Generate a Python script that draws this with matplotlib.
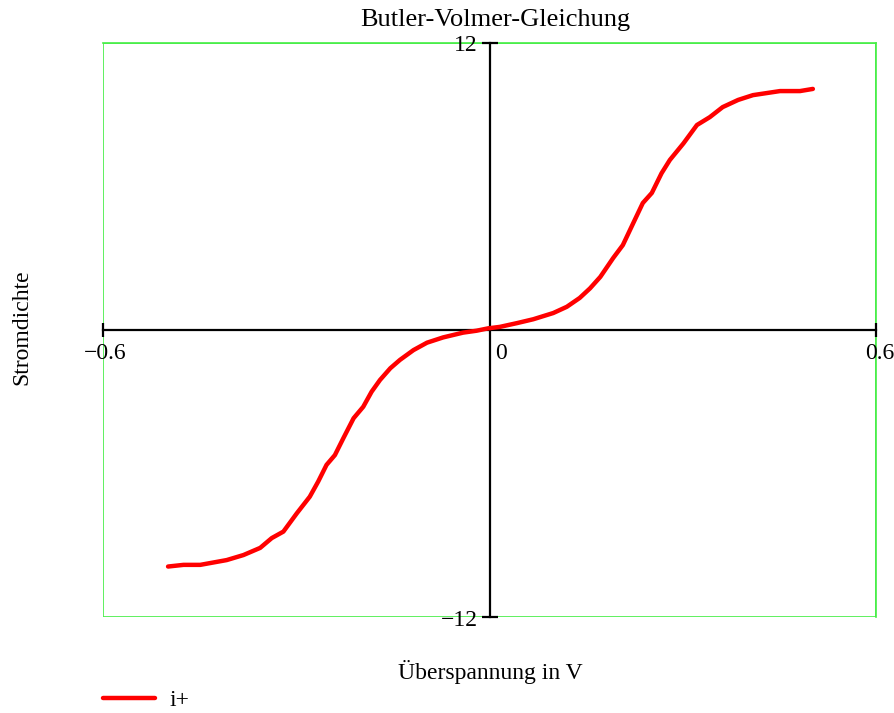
import matplotlib
matplotlib.use("Agg")
import matplotlib.pyplot as plt
from matplotlib.patches import Rectangle

# Data
eta = [-0.499, -0.475, -0.449, -0.408, -0.382, -0.356, -0.338, -0.320, -0.299,
       -0.279, -0.266, -0.253, -0.240, -0.227, -0.211, -0.196, -0.183, -0.170,
       -0.154, -0.139, -0.118, -0.097, -0.072, -0.041, -0.020, -0.002,
       0.016, 0.043, 0.068, 0.099, 0.120, 0.140, 0.156, 0.172, 0.192, 0.207,
       0.223, 0.238, 0.252, 0.267, 0.280, 0.301, 0.322, 0.342, 0.362, 0.386,
       0.409, 0.451, 0.482, 0.502]
i_plus = [-9.89, -9.82, -9.82, -9.62, -9.41, -9.11, -8.70, -8.43, -7.66,
          -6.97, -6.34, -5.64, -5.23, -4.53, -3.69, -3.21, -2.58, -2.09,
          -1.60, -1.25, -0.84, -0.53, -0.31, -0.11, -0.03, 0.07,
          0.13, 0.29, 0.45, 0.71, 0.97, 1.34, 1.74, 2.22, 3.01, 3.55,
          4.46, 5.31, 5.73, 6.55, 7.11, 7.80, 8.57, 8.90, 9.32, 9.62,
          9.82, 9.99, 9.99, 10.08]

title = "Butler-Volmer-Gleichung"
xlabel = "Überspannung in V"
ylabel = "Stromdichte"
legend_label = "i+"
x_limits = (-0.6, 0.6)
y_limits = (-12, 12)

plt.rcParams['font.family'] = ['Liberation Serif', 'DejaVu Serif']

fig = plt.figure(figsize=(8.95, 7.13), dpi=100)
W, H = 895, 713
ax = fig.add_axes([103 / W, 1 - 617 / H, (876 - 103) / W, (617 - 43) / H])
ax.set_xlim(*x_limits)
ax.set_ylim(*y_limits)

green = '#44ee44'
for s in ['top', 'right']:
    ax.spines[s].set_color(green)
    ax.spines[s].set_linewidth(1.2)
    ax.spines[s].set_zorder(0.6)
ax.add_patch(Rectangle((0, 0), 1, 1, transform=ax.transAxes, fill=False,
                       edgecolor=green, linewidth=1.2, zorder=0.5))
for s in ['left', 'bottom']:
    ax.spines[s].set_position('zero')
    ax.spines[s].set_color('black')
    ax.spines[s].set_linewidth(1.6)
    ax.spines[s].set_zorder(1)

ax.set_xticks([x_limits[0], x_limits[1]])
ax.set_yticks([y_limits[0], y_limits[1]])
ax.set_xticklabels([])
ax.set_yticklabels([])
ax.tick_params(axis='x', direction='inout', length=10, width=1.6, color='black')
ax.tick_params(axis='y', direction='inout', length=12, width=1.6, color='black')
ax.xaxis.set_zorder(2)
ax.yaxis.set_zorder(2)

fs = 17
# tick labels
ax.text(x_limits[0] + 0.004, -0.55, "\u22120.6", ha='center', va='top', fontsize=fs)
ax.text(x_limits[1] + 0.006, -0.55, "0.6", ha='center', va='top', fontsize=fs)
ax.text(0.008, -0.55, "0", ha='left', va='top', fontsize=fs)
ax.text(-0.018, y_limits[1] - 0.1, "12", ha='right', va='center', fontsize=fs)
ax.text(-0.018, y_limits[0] - 0.15, "\u221212", ha='right', va='center', fontsize=fs)

line, = ax.plot(eta, i_plus, color='red', linewidth=3.2, label=legend_label,
                zorder=3, solid_capstyle='round', solid_joinstyle='round')

fig.text(495 / W, 1 - 20 / H, title, ha='center', va='center', fontsize=19)
fig.text(490 / W, 1 - 672 / H, xlabel, ha='center', va='center', fontsize=fs)
fig.text(22 / W, 1 - 327 / H, ylabel, ha='center', va='center', rotation=90, fontsize=fs)

leg = fig.legend(handles=[line], loc='center left',
                 bbox_to_anchor=(103 / W, 1 - 700 / H), frameon=False,
                 fontsize=fs, handlelength=2.2, handletextpad=0.6,
                 borderaxespad=0, borderpad=0)

fig.savefig("out.png", dpi=100)
